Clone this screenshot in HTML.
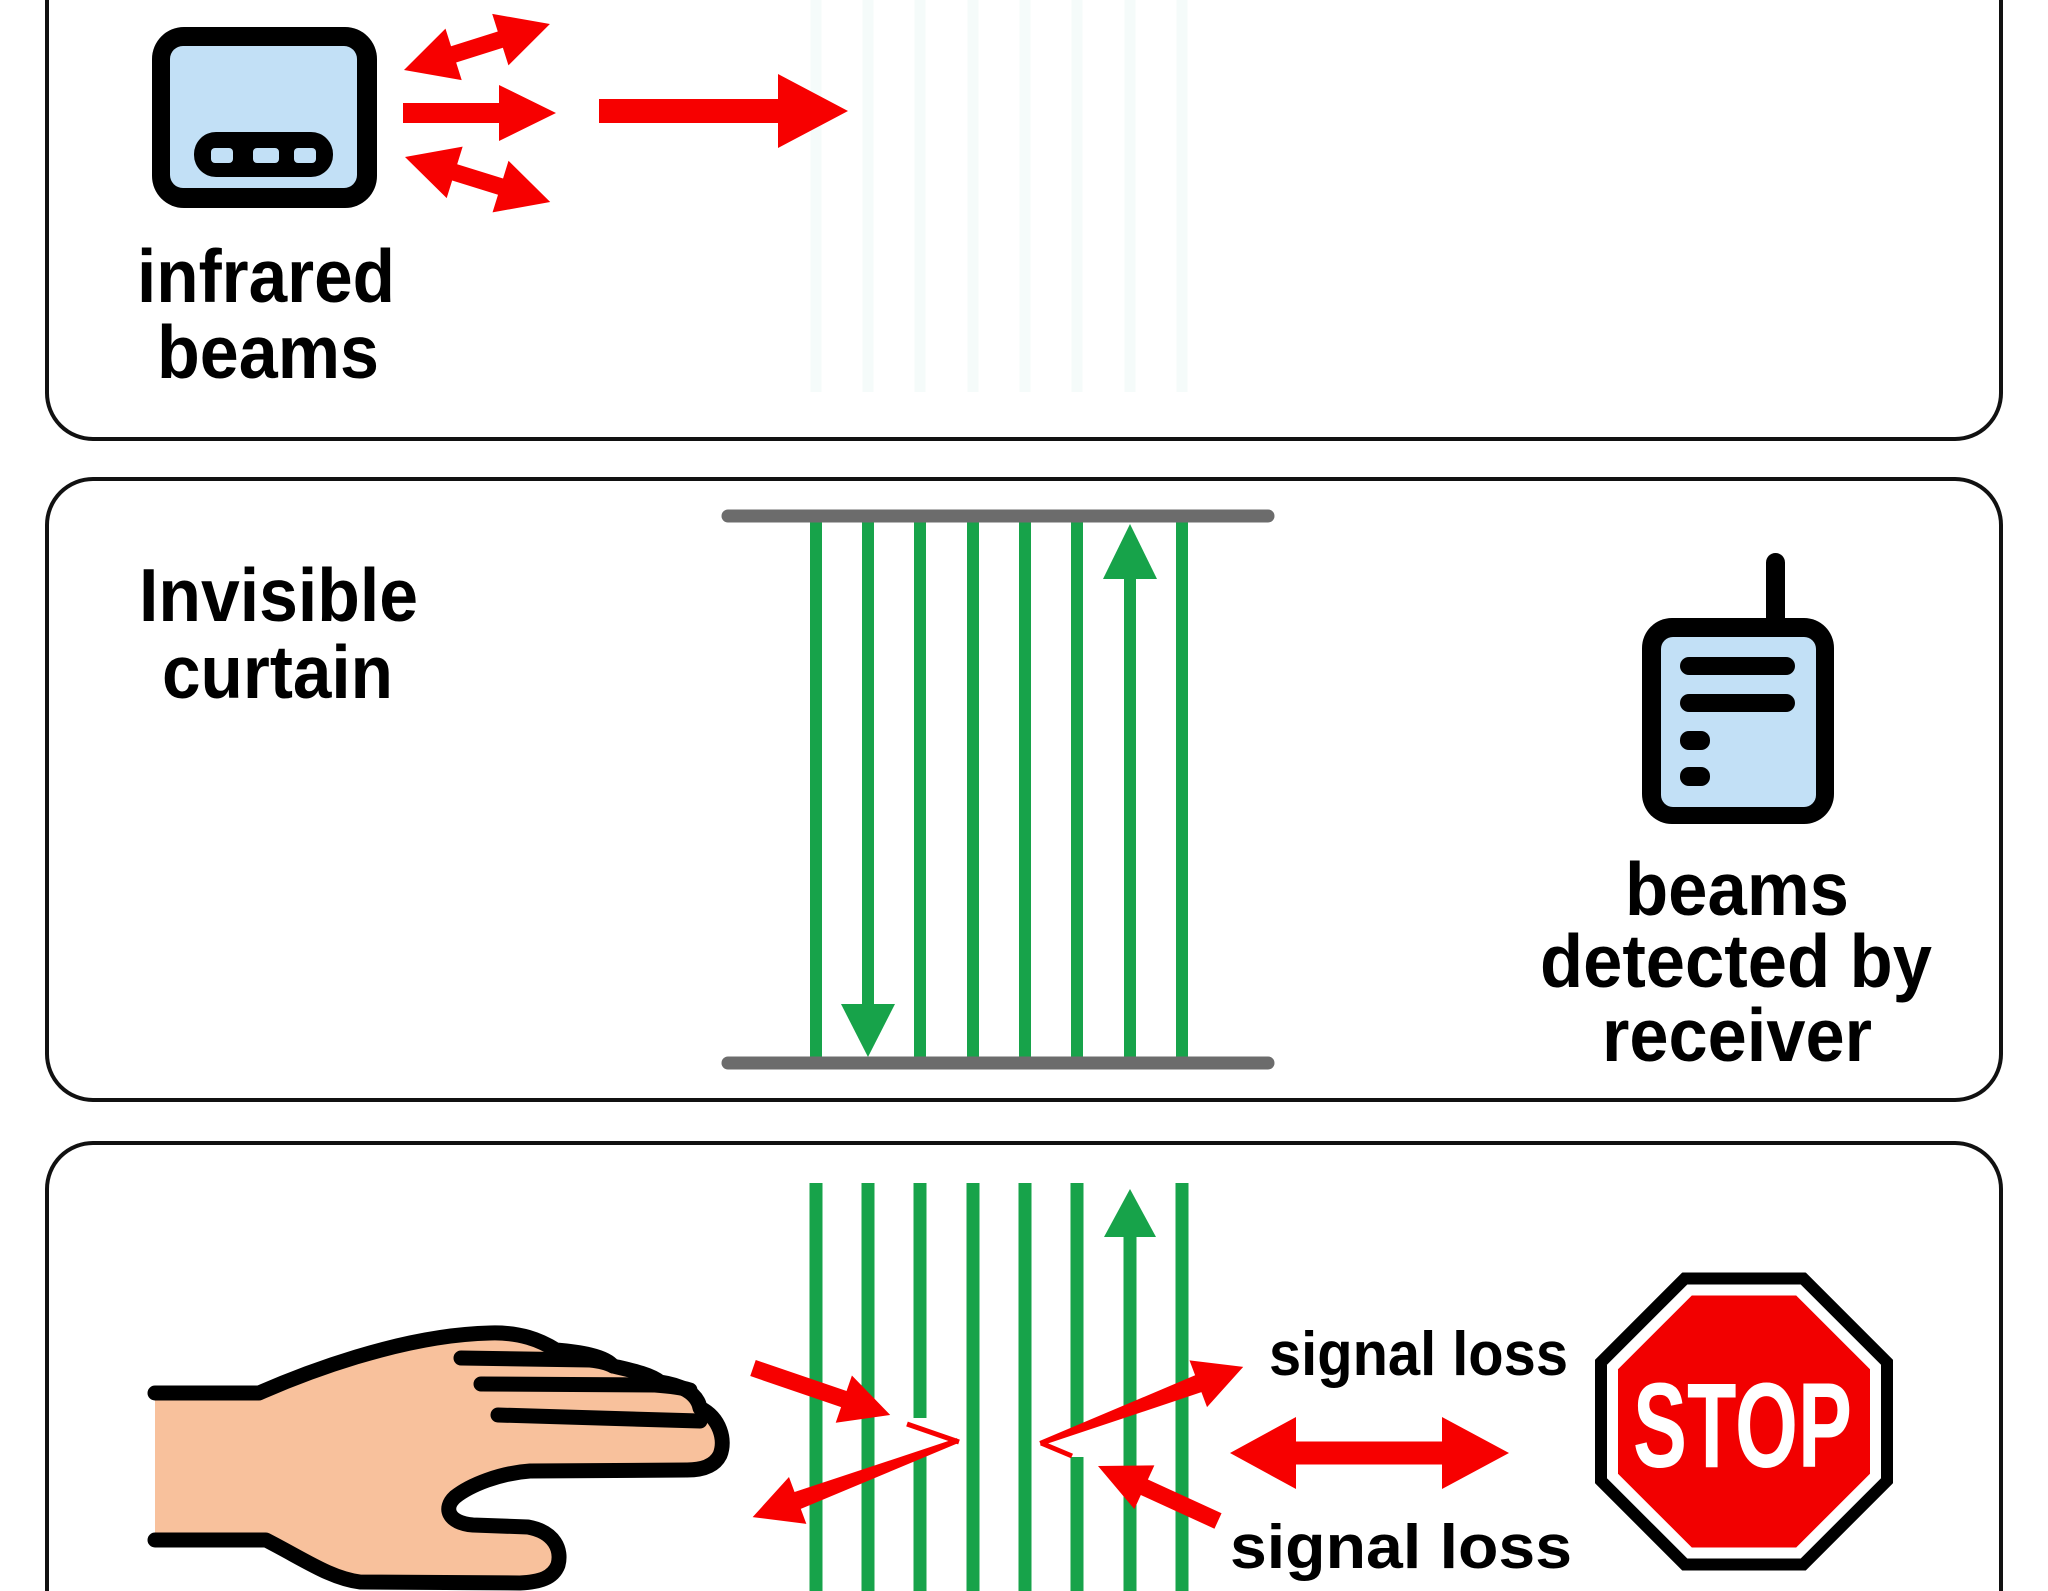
<!DOCTYPE html>
<html>
<head>
<meta charset="utf-8">
<style>
  html,body{margin:0;padding:0;background:#fff;width:2048px;height:1591px;overflow:hidden;}
  svg{display:block;}
  text{font-family:"Liberation Sans",Arial,sans-serif;font-weight:bold;fill:#000;}
</style>
</head>
<body>
<svg width="2048" height="1591" viewBox="0 0 2048 1591" xmlns="http://www.w3.org/2000/svg">
  <rect x="0" y="0" width="2048" height="1591" fill="#fff"/>

  <!-- ============ PANEL 1 ============ -->
  <path d="M47,0 L47,393 A46,46 0 0 0 93,439 L1955,439 A46,46 0 0 0 2001,393 L2001,0" fill="none" stroke="#111" stroke-width="4"/>
  <!-- faint ghost lines -->
  <g stroke="#f5fbfa" stroke-width="11">
    <line x1="816" y1="0" x2="816" y2="392"/>
    <line x1="868" y1="0" x2="868" y2="392"/>
    <line x1="920" y1="0" x2="920" y2="392"/>
    <line x1="973" y1="0" x2="973" y2="392"/>
    <line x1="1025" y1="0" x2="1025" y2="392"/>
    <line x1="1077" y1="0" x2="1077" y2="392"/>
    <line x1="1130" y1="0" x2="1130" y2="392"/>
    <line x1="1182" y1="0" x2="1182" y2="392"/>
  </g>

  <!-- transmitter icon -->
  <rect x="152" y="27" width="225" height="181" rx="32" ry="32" fill="#000"/>
  <rect x="170" y="46" width="187" height="142" rx="13" ry="13" fill="#c2e0f6"/>
  <rect x="194" y="132" width="139" height="45" rx="22" ry="22" fill="#000"/>
  <rect x="211" y="148" width="22" height="15" rx="4" fill="#c2e0f6"/>
  <rect x="253" y="148" width="26" height="15" rx="4" fill="#c2e0f6"/>
  <rect x="294" y="148" width="22" height="15" rx="4" fill="#c2e0f6"/>

  <!-- red arrows panel 1 -->
  <g fill="#f70000">
    <polygon transform="translate(404,70) rotate(-17.5)" points="0,0 52,-27 52,-8.5 101,-8.5 101,-27 153,0 101,27 101,8.5 52,8.5 52,27"/>
    <polygon transform="translate(405,157) rotate(17.2)" points="0,0 52,-27 52,-8.5 100,-8.5 100,-27 152,0 100,27 100,8.5 52,8.5 52,27"/>
    <polygon transform="translate(403,113)" points="0,-10 96,-10 96,-28 153,0 96,28 96,10 0,10"/>
    <polygon transform="translate(599,111)" points="0,-12 179,-12 179,-37 249,0 179,37 179,12 0,12"/>
  </g>

  <text x="137" y="302" font-size="75" textLength="258" lengthAdjust="spacingAndGlyphs">infrared</text>
  <text x="157" y="378" font-size="75" textLength="222" lengthAdjust="spacingAndGlyphs">beams</text>

  <!-- ============ PANEL 2 ============ -->
  <rect x="47" y="479" width="1954" height="621" rx="46" ry="46" fill="#fff" stroke="#111" stroke-width="4"/>

  <text x="139" y="621" font-size="75" textLength="279" lengthAdjust="spacingAndGlyphs">Invisible</text>
  <text x="162" y="698" font-size="75" textLength="231" lengthAdjust="spacingAndGlyphs">curtain</text>

  <!-- green beams -->
  <g stroke="#17a34a" stroke-width="12">
    <line x1="816" y1="516" x2="816" y2="1063"/>
    <line x1="868" y1="516" x2="868" y2="1010"/>
    <line x1="920" y1="516" x2="920" y2="1063"/>
    <line x1="973" y1="516" x2="973" y2="1063"/>
    <line x1="1025" y1="516" x2="1025" y2="1063"/>
    <line x1="1077" y1="516" x2="1077" y2="1063"/>
    <line x1="1130" y1="570" x2="1130" y2="1063"/>
    <line x1="1182" y1="516" x2="1182" y2="1063"/>
  </g>
  <polygon points="841,1004 895,1004 868,1057" fill="#17a34a"/>
  <polygon points="1130,524 1157,579 1103,579" fill="#17a34a"/>
  <!-- gray bars -->
  <g stroke="#6c6c6c" stroke-width="13" stroke-linecap="round">
    <line x1="728" y1="516" x2="1268" y2="516"/>
    <line x1="728" y1="1063" x2="1268" y2="1063"/>
  </g>

  <!-- receiver icon -->
  <rect x="1766" y="553" width="19" height="75" rx="9.5" ry="9.5" fill="#000"/>
  <rect x="1642" y="618" width="192" height="206" rx="30" ry="30" fill="#000"/>
  <rect x="1661" y="637" width="155" height="170" rx="12" ry="12" fill="#c2e0f6"/>
  <rect x="1680" y="657" width="115" height="18" rx="9" fill="#000"/>
  <rect x="1680" y="694" width="115" height="18" rx="9" fill="#000"/>
  <rect x="1680" y="731" width="30" height="19" rx="9" fill="#000"/>
  <rect x="1680" y="767" width="30" height="19" rx="9" fill="#000"/>

  <text x="1625" y="915" font-size="75" textLength="224" lengthAdjust="spacingAndGlyphs">beams</text>
  <text x="1540" y="987" font-size="75" textLength="392" lengthAdjust="spacingAndGlyphs">detected by</text>
  <text x="1602" y="1061" font-size="75" textLength="270" lengthAdjust="spacingAndGlyphs">receiver</text>

  <!-- ============ PANEL 3 ============ -->
  <path d="M47,1591 L47,1189 A46,46 0 0 1 93,1143 L1955,1143 A46,46 0 0 1 2001,1189 L2001,1591" fill="none" stroke="#111" stroke-width="4"/>

  <!-- green beams -->
  <g stroke="#17a34a" stroke-width="13">
    <line x1="816" y1="1183" x2="816" y2="1591"/>
    <line x1="868" y1="1183" x2="868" y2="1591"/>
    <line x1="920" y1="1183" x2="920" y2="1418"/>
    <line x1="920" y1="1455" x2="920" y2="1591"/>
    <line x1="973" y1="1183" x2="973" y2="1591"/>
    <line x1="1025" y1="1183" x2="1025" y2="1591"/>
    <line x1="1077" y1="1183" x2="1077" y2="1428"/>
    <line x1="1077" y1="1457" x2="1077" y2="1591"/>
    <line x1="1130" y1="1230" x2="1130" y2="1591"/>
    <line x1="1182" y1="1183" x2="1182" y2="1591"/>
  </g>
  <polygon points="1130,1189 1156,1237 1104,1237" fill="#17a34a"/>

  <!-- red arrows panel 3 -->
  <g fill="#f70000">
    <polygon transform="translate(753,1368) rotate(18.9)" points="0,-8.5 96,-8.5 96,-25 145,0 96,25 96,8.5 0,8.5"/>
    <polygon transform="translate(958,1441) rotate(159.66)" points="0,-2 171,-9 171,-25 219,0 171,25 171,9 0,3"/>
    <polygon transform="translate(1040,1443) rotate(-20.53)" points="0,-2 169,-9 169,-25 217,0 169,25 169,9 0,3"/>
    <polygon transform="translate(1218,1521) rotate(-155.38)" points="0,-8.5 81,-8.5 81,-24 132,0 81,24 81,8.5 0,8.5"/>
    <polygon transform="translate(1230,1453)" points="0,0 66,-36 66,-11.5 212,-11.5 212,-36 279,0 212,36 212,11.5 66,11.5 66,36"/>
  </g>
  <g stroke="#f70000" stroke-width="5" stroke-linecap="butt">
    <line x1="907" y1="1424" x2="959" y2="1442"/>
    <line x1="1041" y1="1443" x2="1072" y2="1456"/>
  </g>

  <!-- hand -->
  <path d="M155,1393 L259,1393 C300,1375 400,1335 490,1333 C520,1332 540,1340 556,1350 C580,1352 605,1356 613,1366 C630,1370 650,1374 660,1382 C680,1385 697,1392 700,1408 C720,1418 726,1440 720,1455 C714,1467 700,1470 687,1470 L530,1471 C500,1473 470,1485 455,1497 C443,1508 448,1523 473,1525 L528,1527 C555,1532 562,1550 558,1565 C553,1578 540,1582 520,1583 L360,1582 C330,1578 305,1560 266,1540 L155,1540 Z" fill="#f8c19c"/>
  <path d="M155,1393 L259,1393 C300,1375 400,1335 490,1333 C520,1332 540,1340 556,1350 C580,1352 605,1356 613,1366 C630,1370 650,1374 660,1382 C680,1385 697,1392 700,1408 C720,1418 726,1440 720,1455 C714,1467 700,1470 687,1470 L530,1471 C500,1473 470,1485 455,1497 C443,1508 448,1523 473,1525 L528,1527 C555,1532 562,1550 558,1565 C553,1578 540,1582 520,1583 L360,1582 C330,1578 305,1560 266,1540 L155,1540" fill="none" stroke="#000" stroke-width="15" stroke-linecap="round" stroke-linejoin="round"/>
  <g stroke="#000" stroke-width="15" stroke-linecap="round" fill="none">
    <path d="M461,1358 L590,1360 C600,1361 608,1363 613,1366"/>
    <path d="M481,1384 L655,1385 C668,1386 680,1387 690,1390"/>
    <path d="M498,1415 L700,1421"/>
  </g>

  <text x="1269" y="1375" font-size="62" textLength="299" lengthAdjust="spacingAndGlyphs">signal loss</text>
  <text x="1230" y="1568" font-size="62" textLength="342" lengthAdjust="spacingAndGlyphs">signal loss</text>

  <!-- STOP sign -->
  <g transform="translate(1744,1421.5)">
    <polygon points="-61.3,-148 61.3,-148 148,-61.3 148,61.3 61.3,148 -61.3,148 -148,61.3 -148,-61.3" fill="#000" stroke="#000" stroke-width="2" stroke-linejoin="round"/>
    <polygon points="-56.7,-137 56.7,-137 137,-56.7 137,56.7 56.7,137 -56.7,137 -137,56.7 -137,-56.7" fill="#fff"/>
    <polygon points="-52.2,-126 52.2,-126 126,-52.2 126,52.2 52.2,126 -52.2,126 -126,52.2 -126,-52.2" fill="#f20000"/>
  </g>
  <text x="1633" y="1467" font-size="121" textLength="219" lengthAdjust="spacingAndGlyphs" style="fill:#fff">STOP</text>
</svg>
</body>
</html>
